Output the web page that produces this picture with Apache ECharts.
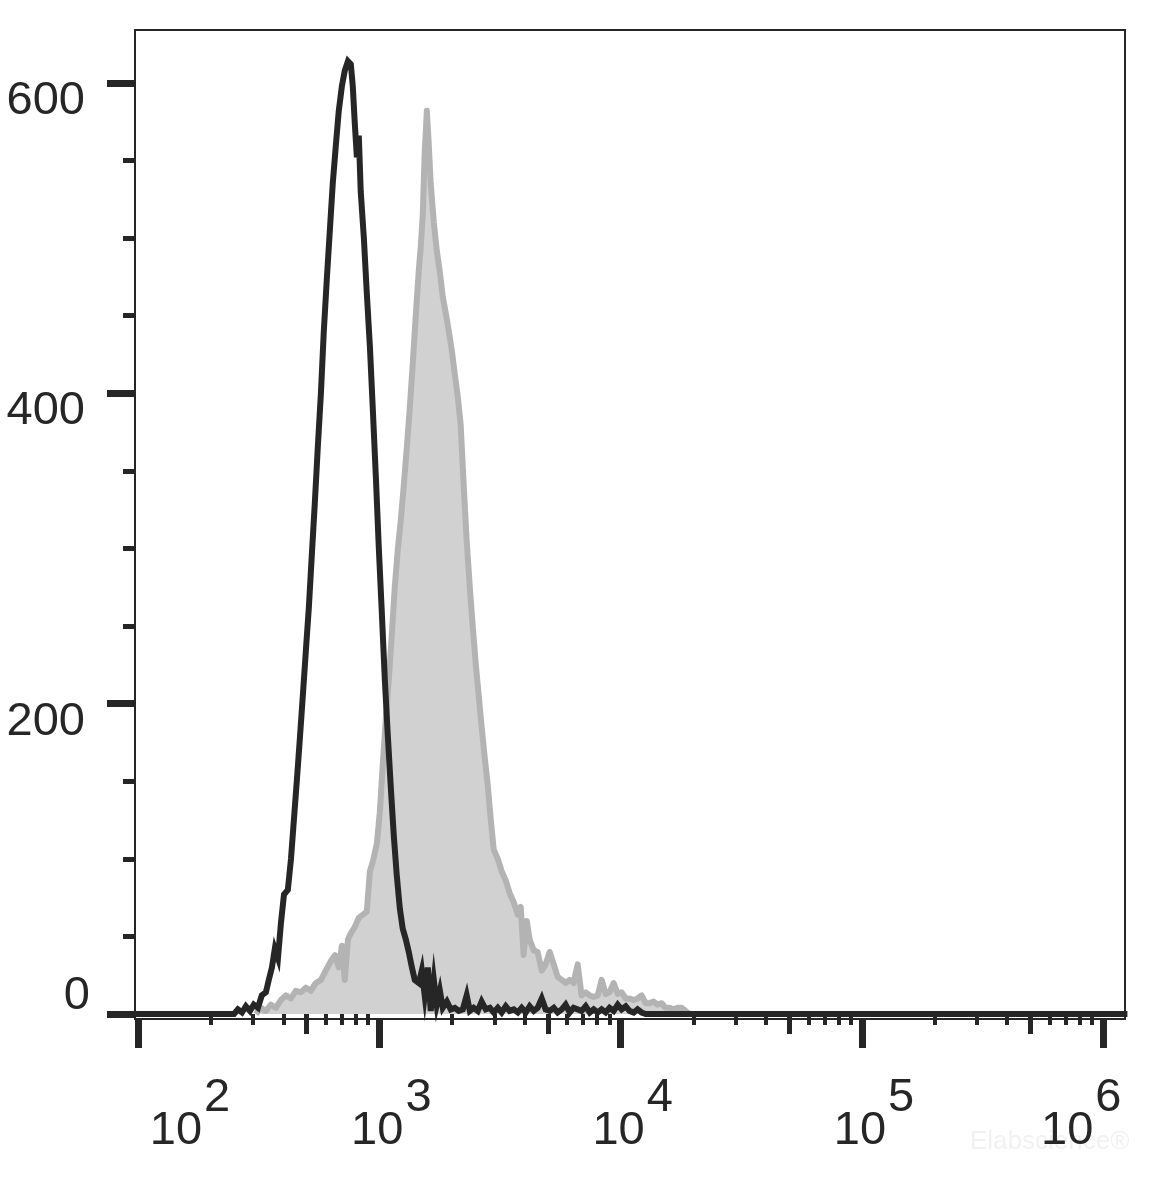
<!DOCTYPE html>
<html>
<head>
<meta charset="utf-8">
<script src="https://cdn.jsdelivr.net/npm/echarts@6/dist/echarts.min.js"></script>
<style>
html,body{margin:0;padding:0;background:#fff;}
#chart{width:1152px;height:1182px;}
</style>
</head>
<body>
<div id="chart"></div>
<script>
// x values are log10(fluorescence intensity); y values are cell counts
const blackX = [1.98,2.398,2.414,2.431,2.447,2.464,2.480,2.497,2.513,2.530,2.542,2.555,2.567,2.580,2.592,2.605,2.621,2.634,2.646,2.658,2.671,2.683,2.696,2.708,2.720,2.733,2.745,2.758,2.770,2.783,2.795,2.807,2.820,2.832,2.845,2.857,2.870,2.882,2.890,2.898,2.907,2.915,2.923,2.936,2.948,2.961,2.973,2.986,2.998,3.010,3.023,3.035,3.048,3.060,3.072,3.085,3.097,3.110,3.122,3.135,3.147,3.164,3.176,3.188,3.201,3.213,3.226,3.238,3.251,3.263,3.280,3.296,3.313,3.329,3.346,3.362,3.375,3.391,3.408,3.424,3.441,3.458,3.474,3.491,3.507,3.524,3.540,3.557,3.574,3.590,3.607,3.623,3.640,3.656,3.673,3.689,3.706,3.723,3.739,3.756,3.772,3.789,3.805,3.822,3.838,3.855,3.872,3.888,3.905,3.921,3.938,3.954,3.971,3.988,4.004,4.021,4.037,4.054,4.070,4.087,4.104,6.10];
const blackY = [0,0,3,1,5,2,6,4,12,14,22,30,42,36,58,77,80,100,125,150,178,205,235,262,295,330,365,400,440,475,505,535,560,582,598,608,614,612,598,575,552,566,530,500,465,430,390,345,300,260,215,180,145,115,90,68,55,48,40,30,22,20,28,12,30,2,22,6,15,4,8,3,4,2,3,12,2,4,2,8,3,4,1,4,1,5,2,3,1,4,1,5,2,4,10,3,2,4,1,3,6,1,4,3,2,5,1,3,1,3,1,4,2,6,3,5,2,1,3,1,0,0];

const grayX = [2.489,2.509,2.530,2.551,2.571,2.592,2.613,2.634,2.654,2.675,2.696,2.716,2.737,2.758,2.778,2.799,2.816,2.832,2.845,2.857,2.870,2.882,2.898,2.915,2.932,2.948,2.961,2.973,2.990,3.002,3.014,3.027,3.039,3.052,3.064,3.077,3.089,3.101,3.114,3.126,3.139,3.151,3.164,3.172,3.180,3.188,3.197,3.205,3.213,3.226,3.238,3.251,3.263,3.275,3.288,3.300,3.313,3.325,3.337,3.350,3.362,3.375,3.387,3.400,3.412,3.424,3.437,3.449,3.462,3.474,3.491,3.507,3.524,3.540,3.557,3.574,3.586,3.598,3.611,3.623,3.640,3.656,3.673,3.689,3.706,3.723,3.739,3.756,3.772,3.789,3.805,3.822,3.838,3.855,3.872,3.888,3.905,3.921,3.938,3.954,3.971,3.988,4.004,4.021,4.037,4.054,4.070,4.087,4.104,4.120,4.137,4.153,4.170,4.186,4.203,4.219,4.236,4.253,4.269,4.286];
const grayY = [0,4,2,6,4,9,12,10,15,14,17,15,20,22,28,34,38,30,44,22,48,52,56,62,64,66,92,98,110,130,160,190,215,245,275,300,318,340,365,390,420,450,480,495,515,555,582,560,535,510,492,478,462,452,440,428,412,398,380,340,305,275,250,225,205,185,165,148,125,106,100,92,86,78,72,64,69,38,60,48,41,40,28,32,40,32,24,22,20,22,20,32,12,14,12,11,12,22,13,14,20,13,14,10,10,9,10,12,7,7,8,6,7,4,4,3,4,4,2,0];

const yMajorTicks = [0, 200, 400, 600];
const yMinorTicks = [50, 100, 150, 250, 300, 350, 450, 500, 550];
const xDecadeTicks = [2, 3, 4, 5, 6];               // log10 of 10^2 .. 10^6
const xFiveTicks = [2.699, 3.699, 4.699, 5.699];    // log10 of 5x10^n
const xMinorTicks = [2.301,2.477,2.602,2.778,2.845,2.903,2.954,
                     3.301,3.477,3.602,3.778,3.845,3.903,3.954,
                     4.301,4.477,4.602,4.778,4.845,4.903,4.954,
                     5.301,5.477,5.602,5.778,5.845,5.903,5.954];

const INK = '#262626';
const FONT = '"Liberation Sans", Arial, sans-serif';
const X_MIN = 1.9876, X_MAX = 6.090, Y_MIN = -3.2, Y_MAX = 634.1;

const chart = echarts.init(document.getElementById('chart'), null, {renderer: 'canvas'});

function xAxisBase(extra) {
  return Object.assign({
    type: 'value', min: X_MIN, max: X_MAX, position: 'bottom',
    splitLine: {show: false},
    axisLine: {show: false},
    axisLabel: {show: false},
  }, extra);
}
function yAxisBase(extra) {
  return Object.assign({
    type: 'value', min: Y_MIN, max: Y_MAX, position: 'left',
    splitLine: {show: false},
    axisLine: {show: false},
    axisLabel: {show: false},
  }, extra);
}

const xRichBase = {fontSize: 47, lineHeight: 47, color: INK, fontFamily: FONT};
const option = {
  animation: false,
  backgroundColor: '#ffffff',
  grid: {
    left: 135, right: 27, top: 30, bottom: 163,
    show: true, borderColor: INK, borderWidth: 2,
    containLabel: false, outerBoundsMode: 'none'
  },
  xAxis: [
    xAxisBase({
      axisLine: {show: true, onZero: false, lineStyle: {color: INK, width: 2}},
      axisTick: {show: true, customValues: xDecadeTicks, length: 29, lineStyle: {color: INK, width: 7}},
      axisLabel: {
        show: true, customValues: xDecadeTicks, margin: 72, hideOverlap: false,
        formatter: function (v) {
          const n = Math.round(v);
          const b = n === 2 ? 'b2' : (n === 6 ? 'b6' : 'b');
          const s = n === 6 ? 's6' : 's';
          return '{' + b + '|10}{' + s + '|' + n + '}';
        },
        rich: {
          b: Object.assign({}, xRichBase, {padding: [33, 0, 0, 24]}),
          b2: Object.assign({}, xRichBase, {padding: [33, 0, 0, 104]}),
          b6: Object.assign({}, xRichBase, {padding: [33, 0, 0, 0]}),
          s: Object.assign({}, xRichBase, {padding: [0, 0, 33, 2]}),
          s6: Object.assign({}, xRichBase, {padding: [0, 44, 33, 2]})
        }
      }
    }),
    xAxisBase({
      axisTick: {show: true, customValues: xFiveTicks, length: 20, lineStyle: {color: INK, width: 5}}
    }),
    xAxisBase({
      axisTick: {show: true, customValues: xMinorTicks, length: 11, lineStyle: {color: INK, width: 4}}
    })
  ],
  yAxis: [
    yAxisBase({
      axisLine: {show: true, onZero: false, lineStyle: {color: INK, width: 2}},
      axisTick: {show: true, customValues: yMajorTicks, length: 28, lineStyle: {color: INK, width: 7}},
      axisLabel: {
        show: true, customValues: yMajorTicks, margin: 45, hideOverlap: false,
        formatter: function (v) { return v === 0 ? '{z|0}' : '{n|' + v + '}'; },
        rich: {
          n: {fontSize: 47, lineHeight: 47, color: INK, fontFamily: FONT, padding: [36, 5, 0, 0]},
          z: {fontSize: 47, lineHeight: 47, color: INK, fontFamily: FONT, padding: [0, 0, 36, 0]}
        }
      }
    }),
    yAxisBase({
      axisTick: {show: true, customValues: yMinorTicks, length: 12, lineStyle: {color: INK, width: 5}}
    })
  ],
  graphic: [{
    type: 'text', left: 970, top: 1129, silent: true,
    style: {text: 'Elabscience®', fontSize: 26, fill: '#f1f1f1', fontFamily: FONT}
  }],
  series: [
    {
      name: 'stained', type: 'line', xAxisIndex: 0, yAxisIndex: 0,
      data: grayX.map((x, i) => [x, grayY[i]]),
      showSymbol: false, symbol: 'none',
      lineStyle: {color: '#b3b3b3', width: 6, join: 'round'},
      areaStyle: {color: '#d1d1d1', opacity: 1},
      z: 2
    },
    {
      name: 'control', type: 'line', xAxisIndex: 0, yAxisIndex: 0,
      data: blackX.map((x, i) => [x, blackY[i]]),
      showSymbol: false, symbol: 'none',
      lineStyle: {color: INK, width: 6, join: 'miter'},
      z: 3
    }
  ]
};
chart.setOption(option);
</script>
</body>
</html>
